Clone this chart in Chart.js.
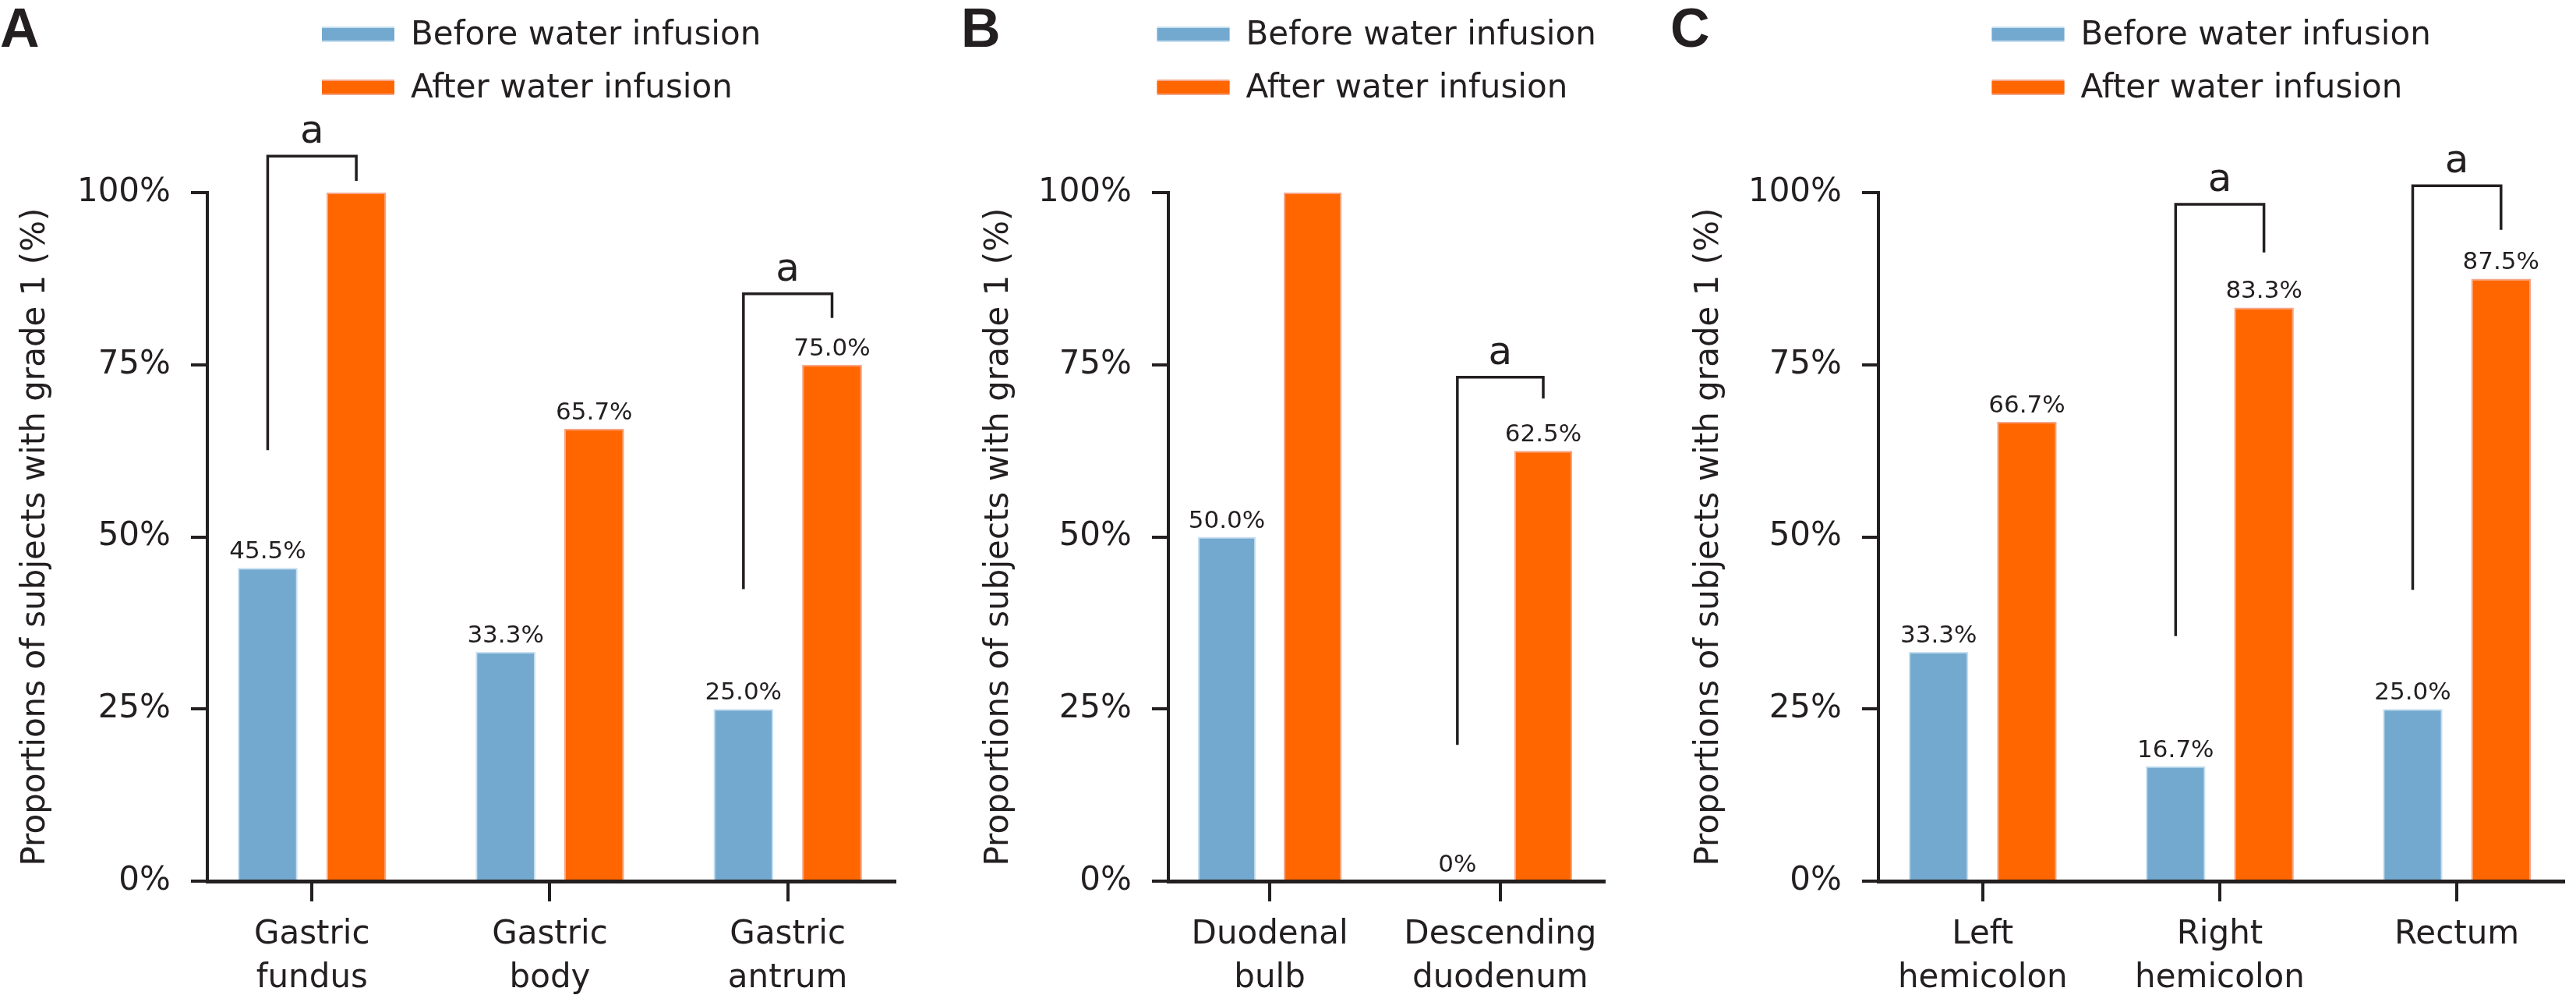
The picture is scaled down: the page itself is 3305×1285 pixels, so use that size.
<!DOCTYPE html>
<html>
<head>
<meta charset="utf-8">
<script src="https://cdn.jsdelivr.net/npm/chart.js@4.4.1/dist/chart.umd.min.js"></script>
<style>
  body { margin: 0; background: #fff; }
  #wrap { position: relative; width: 3305px; height: 1285px; }
  canvas { position: absolute; left: 0; top: 0; }
</style>
</head>
<body>
<div id="wrap">
  <canvas id="chartA" width="3305" height="1285"></canvas>
  <canvas id="chartB" width="3305" height="1285"></canvas>
  <canvas id="chartC" width="3305" height="1285"></canvas>
</div>
<script>
// Data
const seriesNames = ['Before water infusion', 'After water infusion'];
const yTickValues = [0, 25, 50, 75, 100];
const yTitle = 'Proportions of subjects with grade 1 (%)';

const gastricLabels = [['Gastric', 'fundus'], ['Gastric', 'body'], ['Gastric', 'antrum']];
const gastricBefore = [45.5, 33.3, 25.0];
const gastricAfter = [100, 65.7, 75.0];
// significance brackets: [category, bracket top, left leg end, right leg end] (in %)
const gastricSig = [[0, 105.3, 62.6, 101.7], [2, 85.3, 42.4, 81.8]];

const duodenalLabels = [['Duodenal', 'bulb'], ['Descending', 'duodenum']];
const duodenalBefore = [50.0, 0];
const duodenalAfter = [100, 62.5];
const duodenalSig = [[1, 73.2, 19.8, 70.1]];

const colonLabels = [['Left', 'hemicolon'], ['Right', 'hemicolon'], ['Rectum']];
const colonBefore = [33.3, 16.7, 25.0];
const colonAfter = [66.7, 83.3, 87.5];
const colonSig = [[1, 98.3, 35.6, 91.3], [2, 101.0, 42.3, 94.6]];

// Styles
const INK = '#231f20';
const BLUE = '#74a9cf';
const ORANGE = '#ff6600';
const FONT = '"DejaVu Sans"';

Chart.defaults.font.family = FONT;
Chart.defaults.color = INK;

// Draws value labels, brackets, legend and panel letter
const annotate = {
    id: 'annotate',
    afterDatasetsDraw(chart, args, opts) {
        const ctx = chart.ctx;
        const y = chart.scales.y;
        ctx.save();
        ctx.fillStyle = INK;
        ctx.textAlign = 'center';
        ctx.textBaseline = 'alphabetic';
        ctx.font = '31px ' + FONT;
        chart.data.datasets.forEach((ds, di) => {
            chart.getDatasetMeta(di).data.forEach((bar, i) => {
                const v = ds.data[i].y;
                if (v >= 100) return;
                const txt = v === 0 ? '0%' : v.toFixed(1) + '%';
                ctx.fillText(txt, bar.x, bar.y - 12);
            });
        });

        const before = chart.getDatasetMeta(0).data;
        const after = chart.getDatasetMeta(1).data;
        ctx.strokeStyle = INK;
        ctx.lineWidth = 3.5;
        ctx.font = '50px ' + FONT;
        opts.sig.forEach(([i, top, left, right]) => {
            const x1 = before[i].x;
            const x2 = after[i].x;
            const yt = y.getPixelForValue(top);
            ctx.beginPath();
            ctx.moveTo(x1, y.getPixelForValue(left));
            ctx.lineTo(x1, yt);
            ctx.lineTo(x2, yt);
            ctx.lineTo(x2, y.getPixelForValue(right));
            ctx.stroke();
            ctx.fillText('a', (x1 + x2) / 2, yt - 17);
        });
        ctx.restore();
    },
    afterDraw(chart, args, opts) {
        const ctx = chart.ctx;
        const area = chart.chartArea;
        const sx = (area.left + area.right) / 2 - 294;
        ctx.save();
        chart.data.datasets.forEach((ds, di) => {
            const rowY = 44 + di * 68;
            ctx.fillStyle = ds.borderColor;
            ctx.fillRect(sx, rowY - 10, 93, 20);
            ctx.fillStyle = ds.backgroundColor;
            ctx.fillRect(sx, rowY - 8, 93, 16);
            ctx.fillStyle = INK;
            ctx.font = '42px ' + FONT;
            ctx.textAlign = 'left';
            ctx.textBaseline = 'middle';
            ctx.fillText(ds.label, sx + 114, rowY + 2);
        });
        ctx.fillStyle = INK;
        ctx.font = 'bold 70px "Liberation Sans"';
        ctx.textAlign = 'left';
        ctx.textBaseline = 'alphabetic';
        ctx.fillText(opts.letter, opts.letterX, 60);
        ctx.restore();
    }
};

function makePanel(id, letter, letterX, labels, before, after, sig, box) {
    return new Chart(document.getElementById(id), {
        type: 'bar',
        data: {
            datasets: [{
                label: seriesNames[0],
                data: before.map((v, i) => ({ x: i, y: v })),
                backgroundColor: BLUE,
                borderColor: '#c6e0f1',
                borderWidth: { left: 2, right: 2, top: 2, bottom: 0 },
                borderSkipped: false
            }, {
                label: seriesNames[1],
                data: after.map((v, i) => ({ x: i, y: v })),
                backgroundColor: ORANGE,
                borderColor: '#f5a589',
                borderWidth: { left: 2, right: 2, top: 2, bottom: 0 },
                borderSkipped: false
            }]
        },
        options: {
            responsive: false,
            animation: false,
            events: [],
            categoryPercentage: 0.745,
            barPercentage: 0.675,
            layout: { padding: { left: box.padLeft, right: box.padRight, top: 247, bottom: 0 } },
            plugins: {
                legend: { display: false },
                tooltip: { enabled: false },
                annotate: { sig: sig, letter: letter, letterX: letterX }
            },
            scales: {
                x: {
                    type: 'linear',
                    offset: false,
                    min: -0.44,
                    max: labels.length - 1 + 0.45,
                    afterBuildTicks: (scale) => {
                        scale.ticks = labels.map((_, i) => ({ value: i }));
                    },
                    afterFit: (scale) => { scale.height = 155; },
                    grid: { offset: false, drawOnChartArea: false, drawTicks: true, tickLength: 26, color: INK, lineWidth: 4 },
                    border: { display: true, color: INK, width: 5 },
                    ticks: {
                        autoSkip: false,
                        maxRotation: 0,
                        padding: 15,
                        color: INK,
                        font: { size: 42, lineHeight: 1.33 },
                        callback: (value, index) => labels[index]
                    }
                },
                y: {
                    min: 0,
                    max: 100,
                    afterBuildTicks: (scale) => {
                        scale.ticks = yTickValues.map(v => ({ value: v }));
                    },
                    afterFit: (scale) => { scale.width = box.yWidth; },
                    grid: { drawOnChartArea: false, drawTicks: true, tickLength: 21, color: INK, lineWidth: 4 },
                    border: { display: true, color: INK, width: 4 },
                    ticks: {
                        padding: 26,
                        color: INK,
                        font: { size: 42 },
                        callback: (v) => v + '%'
                    },
                    title: {
                        display: true,
                        text: yTitle,
                        color: INK,
                        font: { size: 42, lineHeight: 1.2 },
                        padding: { top: 21, bottom: 0 }
                    }
                }
            }
        },
        plugins: [annotate]
    });
}

makePanel('chartA', 'A', 0, gastricLabels, gastricBefore, gastricAfter, gastricSig,
    { padLeft: 0, yWidth: 266, padRight: 3305 - 1148 });
makePanel('chartB', 'B', 1233, duodenalLabels, duodenalBefore, duodenalAfter, duodenalSig,
    { padLeft: 1236, yWidth: 263, padRight: 3305 - 2058 });
makePanel('chartC', 'C', 2143, colonLabels, colonBefore, colonAfter, colonSig,
    { padLeft: 2147, yWidth: 263, padRight: 3305 - 3289 });
</script>
</body>
</html>
